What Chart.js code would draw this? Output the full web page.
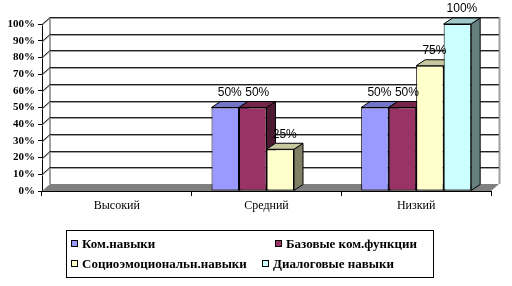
<!DOCTYPE html>
<html><head><meta charset="utf-8">
<script src="https://cdn.jsdelivr.net/npm/chart.js@4/dist/chart.umd.min.js"></script>
<style>
body{margin:0;background:#fff;}
#wrap{position:relative;width:512px;height:286px;}
#legend{position:absolute;left:66px;top:230px;width:366px;height:46px;border:1px solid #000;font:bold 13px "Liberation Serif","Times New Roman",serif;color:#000;}
.it{position:absolute;white-space:nowrap;line-height:14px;}
.sw{display:inline-block;width:5px;height:5px;border:1px solid #000;margin-right:4px;vertical-align:1px;}
</style></head><body>
<div id="wrap"><canvas id="c" width="512" height="286"></canvas><div id="legend"></div></div>
<script>
const categories = ['Высокий', 'Средний', 'Низкий'];
const seriesNames = ['Ком.навыки', 'Базовые ком.функции', 'Социоэмоциональн.навыки', 'Диалоговые навыки'];
const komNavyki = [0, 50, 50];
const bazovyeFunkcii = [0, 50, 50];
const socioEmo = [0, 25, 75];
const dialog = [0, 0, 100];
const yTicks = [0, 10, 20, 30, 40, 50, 60, 70, 80, 90, 100];

const SERIF = '"Liberation Serif", "Times New Roman", serif';
const frontColors = ['#9999FF', '#993366', '#FFFFCC', '#CCFFFF'];
const topColors = ['#7373C8', '#732648', '#C8C8A0', '#A0C8C8'];
const sideColors = ['#5C5C99', '#4D1A33', '#808066', '#668080'];
const seriesValues = [komNavyki, bazovyeFunkcii, socioEmo, dialog];

const legendPos = [[4, 6], [208, 6], [4, 26], [195, 26]];
const lg = document.getElementById('legend');
seriesNames.forEach((n, i) => {
  const d = document.createElement('div');
  d.className = 'it';
  d.style.left = legendPos[i][0] + 'px';
  d.style.top = legendPos[i][1] + 'px';
  d.innerHTML = '<span class="sw" style="background:' + frontColors[i] + '"></span>' + n;
  lg.appendChild(d);
});

const WDX = 8, WDY = -7;   // wall depth
const BDX = 9, BDY = -6;   // bar depth

const threeD = {
  id: 'threeD',
  beforeDatasetsDraw(chart) {
    const ctx = chart.ctx;
    const a = chart.chartArea;
    const ys = chart.scales.y;
    ctx.save();
    ctx.fillStyle = '#808080';
    ctx.beginPath();
    ctx.moveTo(a.left, a.bottom);
    ctx.lineTo(a.right, a.bottom);
    ctx.lineTo(a.right + WDX, a.bottom + WDY);
    ctx.lineTo(a.left + WDX, a.bottom + WDY);
    ctx.closePath();
    ctx.fill();
    ctx.strokeStyle = '#A0A0A0';
    ctx.lineWidth = 2;
    ctx.beginPath();
    ctx.moveTo(a.left + WDX, a.top + WDY);
    ctx.lineTo(a.left + WDX, a.bottom + WDY);
    ctx.moveTo(a.right + WDX + 0.5, a.top + WDY);
    ctx.lineTo(a.right + WDX + 0.5, a.bottom + WDY);
    ctx.stroke();
    ctx.lineWidth = 1;
    yTicks.forEach(v => {
      if (v === 0) return;
      const y = Math.round(ys.getPixelForValue(v)) + 0.5;
      ctx.strokeStyle = '#A0A0A0';
      ctx.beginPath();
      ctx.moveTo(a.left, y + 1);
      ctx.lineTo(a.left + WDX, y + WDY + 1);
      ctx.lineTo(a.right + WDX, y + WDY + 1);
      ctx.stroke();
      ctx.strokeStyle = '#202020';
      ctx.beginPath();
      ctx.moveTo(a.left, y);
      ctx.lineTo(a.left + WDX, y + WDY);
      ctx.lineTo(a.right + WDX, y + WDY);
      ctx.stroke();
    });
    ctx.strokeStyle = '#000';
    ctx.lineWidth = 1;
    for (let i = 0; i < categories.length; i++) {
      chart.data.datasets.forEach((ds, d) => {
        const v = ds.data[i];
        if (!(v > 0)) return;
        const el = chart.getDatasetMeta(d).data[i];
        const p = el.getProps(['x', 'y', 'base', 'width'], true);
        const l = p.x - p.width / 2, r = p.x + p.width / 2, t = p.y, b = p.base;
        ctx.fillStyle = sideColors[d];
        ctx.beginPath();
        ctx.moveTo(r, b); ctx.lineTo(r + BDX, b + BDY); ctx.lineTo(r + BDX, t + BDY); ctx.lineTo(r, t);
        ctx.closePath(); ctx.fill(); ctx.stroke();
        ctx.fillStyle = topColors[d];
        ctx.beginPath();
        ctx.moveTo(l, t); ctx.lineTo(l + BDX, t + BDY); ctx.lineTo(r + BDX, t + BDY); ctx.lineTo(r, t);
        ctx.closePath(); ctx.fill(); ctx.stroke();
      });
    }
    ctx.restore();
  },
  afterDatasetsDraw(chart) {
    const ctx = chart.ctx;
    ctx.save();
    ctx.font = '12px "Liberation Sans", Arial, sans-serif';
    ctx.fillStyle = '#000';
    ctx.textAlign = 'center';
    ctx.textBaseline = 'bottom';
    chart.data.datasets.forEach((ds, d) => {
      chart.getDatasetMeta(d).data.forEach((el, i) => {
        const v = ds.data[i];
        if (!(v > 0)) return;
        const p = el.getProps(['x', 'y'], true);
        ctx.fillText(v + '%', p.x + BDX / 2, p.y + BDY - 3);
      });
    });
    ctx.restore();
  }
};

new Chart(document.getElementById('c'), {
  type: 'bar',
  data: {
    labels: categories,
    datasets: seriesNames.map((n, i) => ({
      label: n,
      data: seriesValues[i],
      backgroundColor: frontColors[i],
      borderColor: '#000',
      borderWidth: c => (c.raw > 0 ? 1 : 0),
      borderSkipped: false,
      categoryPercentage: 0.735,
      barPercentage: 1
    }))
  },
  options: {
    responsive: false,
    animation: false,
    layout: { padding: { top: 24, right: 21, left: 0, bottom: 0 } },
    plugins: { legend: { display: false }, tooltip: { enabled: false } },
    scales: {
      x: {
        grid: { offset: true, drawOnChartArea: false, tickLength: 5, color: '#000' },
        border: { color: '#000' },
        ticks: { font: { family: SERIF, size: 12 }, color: '#000', padding: 3 },
        afterFit(s) { s.height = 95; }
      },
      y: {
        min: 0, max: 100,
        ticks: { stepSize: 10, autoSkip: false, callback: v => v + '%', font: { family: SERIF, size: 11, weight: 'bold' }, color: '#000', padding: 3 },
        grid: { drawOnChartArea: false, tickLength: 4, color: '#000' },
        border: { color: '#000' },
        afterFit(s) { s.width = 42; }
      }
    }
  },
  plugins: [threeD]
});
</script>
</body></html>
